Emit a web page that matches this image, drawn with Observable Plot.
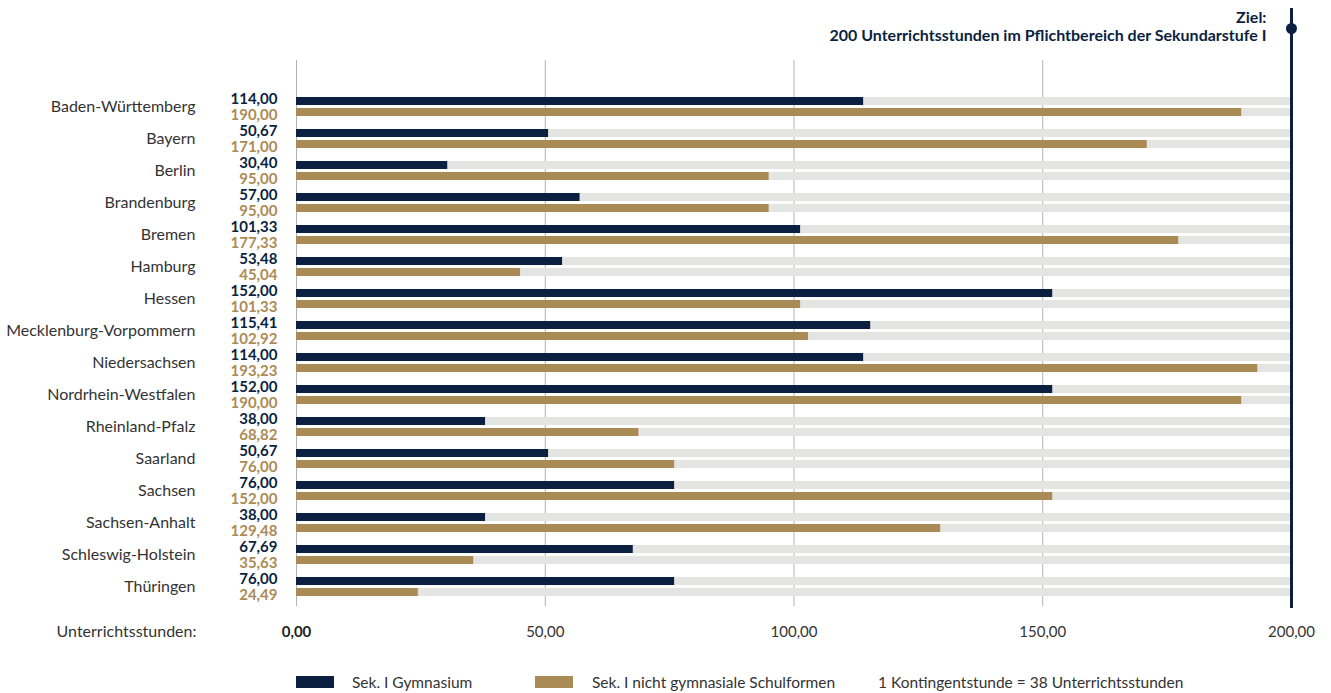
<!DOCTYPE html>
<html>
<head>
<meta charset="utf-8">
<script src="https://cdn.jsdelivr.net/npm/d3@7"></script>
<script src="https://cdn.jsdelivr.net/npm/@observablehq/plot@0.6"></script>
<style>
  body { margin: 0; background: #fff; font-family: Lato, "Noto Sans", sans-serif; }
  #wrap { width: 1331px; position: relative; }
  #legend { position: relative; width: 1331px; height: 33px; font-size: 15.5px; color: #333; }
  #legend .sw { position: absolute; top: 16px; width: 38px; height: 12px; }
  #legend .lb { position: absolute; top: 12px; line-height: 20px; }
</style>
</head>
<body>
<div id="wrap">
  <div id="chart"></div>
  <div id="legend"></div>
</div>
<script>
const states = ["Baden-Württemberg","Bayern","Berlin","Brandenburg","Bremen","Hamburg","Hessen","Mecklenburg-Vorpommern","Niedersachsen","Nordrhein-Westfalen","Rheinland-Pfalz","Saarland","Sachsen","Sachsen-Anhalt","Schleswig-Holstein","Thüringen"];
const gymnasium = [114.00,50.67,30.40,57.00,101.33,53.48,152.00,115.41,114.00,152.00,38.00,50.67,76.00,38.00,67.69,76.00];
const nichtGymnasial = [190.00,171.00,95.00,95.00,177.33,45.04,101.33,102.92,193.23,190.00,68.82,76.00,152.00,129.48,35.63,24.49];
const xTicks = [0,50,100,150,200];
const target = 200;
const seriesNames = ["Sek. I Gymnasium","Sek. I nicht gymnasiale Schulformen"];
const note = "1 Kontingentstunde = 38 Unterrichtsstunden";
const axisLabel = "Unterrichtsstunden:";
const targetLabel = "Ziel:\n200 Unterrichtsstunden im Pflichtbereich der Sekundarstufe I";

const navy = "#0b1f40", gold = "#ab8b55", grey = "#e4e4e2";
const fmt = v => v.toFixed(2).replace(".", ",");
const rows = states.map((s, i) => ({state: s, gym: gymnasium[i], non: nichtGymnasial[i]}));

const chart = Plot.plot({
  width: 1331,
  height: 660,
  marginTop: 8,
  marginBottom: 52,
  marginLeft: 296,
  marginRight: 40,
  style: {fontFamily: "Lato, 'Noto Sans', sans-serif", overflow: "visible"},
  x: {domain: [0, target], axis: null},
  y: {domain: states, range: [90, 602], padding: 0, axis: null},
  marks: [
    Plot.ruleX(xTicks.slice(0, -1), {x: d => d, stroke: "#b3b3b3", strokeWidth: 1, insetTop: 52, insetBottom: 2}),
    Plot.barX(rows, {x1: 0, x2: () => target, y: "state", insetTop: 7, insetBottom: 17, fill: grey}),
    Plot.barX(rows, {x1: 0, x2: () => target, y: "state", insetTop: 18, insetBottom: 6, fill: grey}),
    Plot.barX(rows, {x1: 0, x2: "gym", y: "state", insetTop: 7, insetBottom: 17, fill: navy}),
    Plot.barX(rows, {x1: 0, x2: "non", y: "state", insetTop: 18, insetBottom: 6, fill: gold}),
    Plot.text(rows, {y: "state", text: "state", frameAnchor: "left", dx: -101, textAnchor: "end", fontSize: 16, fill: "#333"}),
    Plot.text(rows, {y: "state", text: d => fmt(d.gym), frameAnchor: "left", dx: -19, dy: -7.5, textAnchor: "end", fontSize: 15, fontWeight: "bold", fill: navy}),
    Plot.text(rows, {y: "state", text: d => fmt(d.non), frameAnchor: "left", dx: -19, dy: 8.5, textAnchor: "end", fontSize: 15, fontWeight: "bold", fill: gold}),
    Plot.ruleX([target], {x: d => d, stroke: navy, strokeWidth: 3}),
    Plot.dot([target], {x: d => d, frameAnchor: "top", dy: 20, r: 5.5, fill: navy, stroke: "none"}),
    Plot.text([target], {x: d => d, text: () => targetLabel, frameAnchor: "top", lineAnchor: "top", dx: -25, dy: 1, textAnchor: "end", fontSize: 16, fontWeight: "bold", fill: navy, lineHeight: 1.15}),
    Plot.text(xTicks.slice(0, 1), {x: d => d, text: fmt, frameAnchor: "bottom", dy: 28, fontSize: 15, fontWeight: "bold", fill: "#222"}),
    Plot.text(xTicks.slice(1), {x: d => d, text: fmt, frameAnchor: "bottom", dy: 28, fontSize: 15, fill: "#333"}),
    Plot.text([axisLabel], {frameAnchor: "bottom-left", dx: -100, dy: 28, textAnchor: "end", fontSize: 16, fill: "#333"})
  ]
});
document.getElementById("chart").appendChild(chart);

const legend = document.getElementById("legend");
const items = [
  {kind: "sw", left: 296, color: navy},
  {kind: "lb", left: 352, text: seriesNames[0]},
  {kind: "sw", left: 535, color: gold},
  {kind: "lb", left: 592, text: seriesNames[1]},
  {kind: "lb", left: 878, text: note}
];
for (const it of items) {
  const el = document.createElement("div");
  el.className = it.kind;
  el.style.left = it.left + "px";
  if (it.kind === "sw") el.style.background = it.color; else el.textContent = it.text;
  legend.appendChild(el);
}
</script>
</body>
</html>
